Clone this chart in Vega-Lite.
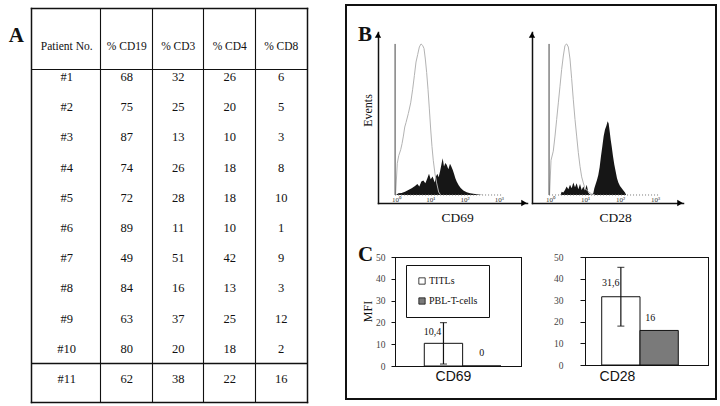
{
  "$schema": "https://vega.github.io/schema/vega-lite/v6.json",
  "width": 720,
  "height": 406,
  "autosize": {"type": "none"},
  "padding": 0,
  "background": "white",
  "config": {
    "view": {"stroke": null},
    "font": "Liberation Serif",
    "axis": {"domainColor": "#111", "gridColor": "#111", "gridOpacity": 1, "tickColor": "#111", "labelColor": "#333", "titleColor": "#111", "titleFontWeight": "normal", "titlePadding": 0, "domainCap": "square"},
    "text": {"color": "#111"},
    "locale": {"number": {"decimal": ",", "thousands": ".", "grouping": [3], "currency": ["", " €"]}}
  },
  "datasets": {
    "table": [
      {"patient": "#1", "% CD19": 68, "% CD3": 32, "% CD4": 26, "% CD8": 6},
      {"patient": "#2", "% CD19": 75, "% CD3": 25, "% CD4": 20, "% CD8": 5},
      {"patient": "#3", "% CD19": 87, "% CD3": 13, "% CD4": 10, "% CD8": 3},
      {"patient": "#4", "% CD19": 74, "% CD3": 26, "% CD4": 18, "% CD8": 8},
      {"patient": "#5", "% CD19": 72, "% CD3": 28, "% CD4": 18, "% CD8": 10},
      {"patient": "#6", "% CD19": 89, "% CD3": 11, "% CD4": 10, "% CD8": 1},
      {"patient": "#7", "% CD19": 49, "% CD3": 51, "% CD4": 42, "% CD8": 9},
      {"patient": "#8", "% CD19": 84, "% CD3": 16, "% CD4": 13, "% CD8": 3},
      {"patient": "#9", "% CD19": 63, "% CD3": 37, "% CD4": 25, "% CD8": 12},
      {"patient": "#10", "% CD19": 80, "% CD3": 20, "% CD4": 18, "% CD8": 2},
      {"patient": "#11", "% CD19": 62, "% CD3": 38, "% CD4": 22, "% CD8": 16}
    ],
    "columns": [{"column": "% CD19"}, {"column": "% CD3"}, {"column": "% CD4"}, {"column": "% CD8"}],
    "mfi": [
      {"marker": "CD69", "cells": "TITLs", "mfi": 10.4, "lo": 0.9, "hi": 19.9},
      {"marker": "CD69", "cells": "PBL-T-cells", "mfi": 0},
      {"marker": "CD28", "cells": "TITLs", "mfi": 31.6, "lo": 18.0, "hi": 45.2},
      {"marker": "CD28", "cells": "PBL-T-cells", "mfi": 16}
    ],
    "facs": [
      {"marker": "CD69", "stain": "control", "intensity": 0.97, "events": 0},
      {"marker": "CD69", "stain": "control", "intensity": 1.09, "events": 21},
      {"marker": "CD69", "stain": "control", "intensity": 1.2, "events": 26},
      {"marker": "CD69", "stain": "control", "intensity": 1.37, "events": 30},
      {"marker": "CD69", "stain": "control", "intensity": 1.5, "events": 34},
      {"marker": "CD69", "stain": "control", "intensity": 1.64, "events": 39},
      {"marker": "CD69", "stain": "control", "intensity": 1.8, "events": 45},
      {"marker": "CD69", "stain": "control", "intensity": 1.96, "events": 48},
      {"marker": "CD69", "stain": "control", "intensity": 2.29, "events": 54},
      {"marker": "CD69", "stain": "control", "intensity": 2.68, "events": 61},
      {"marker": "CD69", "stain": "control", "intensity": 3.06, "events": 70},
      {"marker": "CD69", "stain": "control", "intensity": 3.43, "events": 79},
      {"marker": "CD69", "stain": "control", "intensity": 3.83, "events": 88},
      {"marker": "CD69", "stain": "control", "intensity": 4.29, "events": 93},
      {"marker": "CD69", "stain": "control", "intensity": 4.79, "events": 98},
      {"marker": "CD69", "stain": "control", "intensity": 5.36, "events": 100},
      {"marker": "CD69", "stain": "control", "intensity": 5.98, "events": 99},
      {"marker": "CD69", "stain": "control", "intensity": 6.55, "events": 97},
      {"marker": "CD69", "stain": "control", "intensity": 7.16, "events": 90},
      {"marker": "CD69", "stain": "control", "intensity": 7.83, "events": 81},
      {"marker": "CD69", "stain": "control", "intensity": 8.57, "events": 70},
      {"marker": "CD69", "stain": "control", "intensity": 9.38, "events": 57},
      {"marker": "CD69", "stain": "control", "intensity": 10.3, "events": 43},
      {"marker": "CD69", "stain": "control", "intensity": 11.2, "events": 32},
      {"marker": "CD69", "stain": "control", "intensity": 12.2, "events": 23},
      {"marker": "CD69", "stain": "control", "intensity": 13.7, "events": 14},
      {"marker": "CD69", "stain": "control", "intensity": 15.3, "events": 8},
      {"marker": "CD69", "stain": "control", "intensity": 17.5, "events": 2},
      {"marker": "CD69", "stain": "control", "intensity": 20, "events": 0},
      {"marker": "CD69", "stain": "stained", "intensity": 1.0, "events": 0},
      {"marker": "CD69", "stain": "stained", "intensity": 1.17, "events": 1.1},
      {"marker": "CD69", "stain": "stained", "intensity": 1.46, "events": 1.3},
      {"marker": "CD69", "stain": "stained", "intensity": 1.83, "events": 2.2},
      {"marker": "CD69", "stain": "stained", "intensity": 2.29, "events": 3.3},
      {"marker": "CD69", "stain": "stained", "intensity": 2.86, "events": 4.4},
      {"marker": "CD69", "stain": "stained", "intensity": 3.58, "events": 6},
      {"marker": "CD69", "stain": "stained", "intensity": 4.19, "events": 7.3},
      {"marker": "CD69", "stain": "stained", "intensity": 4.79, "events": 5.6},
      {"marker": "CD69", "stain": "stained", "intensity": 5.48, "events": 8.9},
      {"marker": "CD69", "stain": "stained", "intensity": 6.26, "events": 9.6},
      {"marker": "CD69", "stain": "stained", "intensity": 7.17, "events": 7.8},
      {"marker": "CD69", "stain": "stained", "intensity": 8.2, "events": 11.1},
      {"marker": "CD69", "stain": "stained", "intensity": 9.16, "events": 14},
      {"marker": "CD69", "stain": "stained", "intensity": 10.25, "events": 10.4},
      {"marker": "CD69", "stain": "stained", "intensity": 11.7, "events": 12.2},
      {"marker": "CD69", "stain": "stained", "intensity": 13.4, "events": 8.2},
      {"marker": "CD69", "stain": "stained", "intensity": 14.7, "events": 12.2},
      {"marker": "CD69", "stain": "stained", "intensity": 16, "events": 14},
      {"marker": "CD69", "stain": "stained", "intensity": 17.5, "events": 11.8},
      {"marker": "CD69", "stain": "stained", "intensity": 19.2, "events": 15.6},
      {"marker": "CD69", "stain": "stained", "intensity": 21, "events": 20},
      {"marker": "CD69", "stain": "stained", "intensity": 22.9, "events": 24.4},
      {"marker": "CD69", "stain": "stained", "intensity": 25.1, "events": 18.9},
      {"marker": "CD69", "stain": "stained", "intensity": 27.4, "events": 21.1},
      {"marker": "CD69", "stain": "stained", "intensity": 30, "events": 20},
      {"marker": "CD69", "stain": "stained", "intensity": 33.6, "events": 17.1},
      {"marker": "CD69", "stain": "stained", "intensity": 37.5, "events": 20.7},
      {"marker": "CD69", "stain": "stained", "intensity": 41, "events": 18.9},
      {"marker": "CD69", "stain": "stained", "intensity": 44.9, "events": 16.7},
      {"marker": "CD69", "stain": "stained", "intensity": 49.1, "events": 14},
      {"marker": "CD69", "stain": "stained", "intensity": 53.7, "events": 11.1},
      {"marker": "CD69", "stain": "stained", "intensity": 58.7, "events": 8.9},
      {"marker": "CD69", "stain": "stained", "intensity": 67.2, "events": 6.4},
      {"marker": "CD69", "stain": "stained", "intensity": 76.8, "events": 4.7},
      {"marker": "CD69", "stain": "stained", "intensity": 91.9, "events": 2.9},
      {"marker": "CD69", "stain": "stained", "intensity": 115, "events": 1.8},
      {"marker": "CD69", "stain": "stained", "intensity": 144, "events": 1.1},
      {"marker": "CD69", "stain": "stained", "intensity": 201, "events": 0.7},
      {"marker": "CD69", "stain": "stained", "intensity": 281, "events": 0.2},
      {"marker": "CD69", "stain": "stained", "intensity": 352, "events": 0},
      {"marker": "CD28", "stain": "control", "intensity": 0.97, "events": 0},
      {"marker": "CD28", "stain": "control", "intensity": 1.07, "events": 23},
      {"marker": "CD28", "stain": "control", "intensity": 1.24, "events": 29},
      {"marker": "CD28", "stain": "control", "intensity": 1.39, "events": 39},
      {"marker": "CD28", "stain": "control", "intensity": 1.55, "events": 50},
      {"marker": "CD28", "stain": "control", "intensity": 1.73, "events": 61},
      {"marker": "CD28", "stain": "control", "intensity": 1.93, "events": 72},
      {"marker": "CD28", "stain": "control", "intensity": 2.15, "events": 83},
      {"marker": "CD28", "stain": "control", "intensity": 2.4, "events": 92},
      {"marker": "CD28", "stain": "control", "intensity": 2.68, "events": 99},
      {"marker": "CD28", "stain": "control", "intensity": 2.99, "events": 100},
      {"marker": "CD28", "stain": "control", "intensity": 3.34, "events": 98},
      {"marker": "CD28", "stain": "control", "intensity": 3.73, "events": 90},
      {"marker": "CD28", "stain": "control", "intensity": 4.16, "events": 77},
      {"marker": "CD28", "stain": "control", "intensity": 4.64, "events": 63},
      {"marker": "CD28", "stain": "control", "intensity": 5.18, "events": 50},
      {"marker": "CD28", "stain": "control", "intensity": 5.78, "events": 39},
      {"marker": "CD28", "stain": "control", "intensity": 6.45, "events": 28},
      {"marker": "CD28", "stain": "control", "intensity": 7.2, "events": 19},
      {"marker": "CD28", "stain": "control", "intensity": 8.03, "events": 12},
      {"marker": "CD28", "stain": "control", "intensity": 8.96, "events": 8},
      {"marker": "CD28", "stain": "control", "intensity": 10, "events": 4.4},
      {"marker": "CD28", "stain": "control", "intensity": 12.4, "events": 2.2},
      {"marker": "CD28", "stain": "control", "intensity": 15.5, "events": 0.7},
      {"marker": "CD28", "stain": "control", "intensity": 19.3, "events": 0},
      {"marker": "CD28", "stain": "stained", "intensity": 2.0, "events": 0},
      {"marker": "CD28", "stain": "stained", "intensity": 2.15, "events": 2.2},
      {"marker": "CD28", "stain": "stained", "intensity": 2.4, "events": 1.6},
      {"marker": "CD28", "stain": "stained", "intensity": 2.68, "events": 3.3},
      {"marker": "CD28", "stain": "stained", "intensity": 2.99, "events": 5.6},
      {"marker": "CD28", "stain": "stained", "intensity": 3.34, "events": 3.8},
      {"marker": "CD28", "stain": "stained", "intensity": 3.73, "events": 6.7},
      {"marker": "CD28", "stain": "stained", "intensity": 4.16, "events": 4.4},
      {"marker": "CD28", "stain": "stained", "intensity": 4.64, "events": 8.2},
      {"marker": "CD28", "stain": "stained", "intensity": 5.18, "events": 5.1},
      {"marker": "CD28", "stain": "stained", "intensity": 5.78, "events": 7.8},
      {"marker": "CD28", "stain": "stained", "intensity": 6.45, "events": 3.8},
      {"marker": "CD28", "stain": "stained", "intensity": 7.2, "events": 7.3},
      {"marker": "CD28", "stain": "stained", "intensity": 8.03, "events": 3.3},
      {"marker": "CD28", "stain": "stained", "intensity": 8.96, "events": 5.6},
      {"marker": "CD28", "stain": "stained", "intensity": 10, "events": 2.9},
      {"marker": "CD28", "stain": "stained", "intensity": 11.2, "events": 6.7},
      {"marker": "CD28", "stain": "stained", "intensity": 12.4, "events": 1.6},
      {"marker": "CD28", "stain": "stained", "intensity": 13.9, "events": 0.4},
      {"marker": "CD28", "stain": "stained", "intensity": 15.5, "events": 0},
      {"marker": "CD28", "stain": "stained", "intensity": 17.3, "events": 1.1},
      {"marker": "CD28", "stain": "stained", "intensity": 18.5, "events": 4.4},
      {"marker": "CD28", "stain": "stained", "intensity": 20.2, "events": 7.3},
      {"marker": "CD28", "stain": "stained", "intensity": 22, "events": 10},
      {"marker": "CD28", "stain": "stained", "intensity": 24, "events": 13.3},
      {"marker": "CD28", "stain": "stained", "intensity": 26.2, "events": 18.4},
      {"marker": "CD28", "stain": "stained", "intensity": 28.6, "events": 25.6},
      {"marker": "CD28", "stain": "stained", "intensity": 31.3, "events": 32.2},
      {"marker": "CD28", "stain": "stained", "intensity": 34.1, "events": 38.9},
      {"marker": "CD28", "stain": "stained", "intensity": 37.3, "events": 43.3},
      {"marker": "CD28", "stain": "stained", "intensity": 40.7, "events": 45.6},
      {"marker": "CD28", "stain": "stained", "intensity": 44.4, "events": 48.9},
      {"marker": "CD28", "stain": "stained", "intensity": 47.4, "events": 47.3},
      {"marker": "CD28", "stain": "stained", "intensity": 50.7, "events": 42.2},
      {"marker": "CD28", "stain": "stained", "intensity": 54.1, "events": 36.7},
      {"marker": "CD28", "stain": "stained", "intensity": 57.8, "events": 32.2},
      {"marker": "CD28", "stain": "stained", "intensity": 63.1, "events": 25.6},
      {"marker": "CD28", "stain": "stained", "intensity": 68.9, "events": 20},
      {"marker": "CD28", "stain": "stained", "intensity": 75.2, "events": 15.6},
      {"marker": "CD28", "stain": "stained", "intensity": 82.1, "events": 11.1},
      {"marker": "CD28", "stain": "stained", "intensity": 89.6, "events": 8.2},
      {"marker": "CD28", "stain": "stained", "intensity": 100, "events": 6},
      {"marker": "CD28", "stain": "stained", "intensity": 112, "events": 4.4},
      {"marker": "CD28", "stain": "stained", "intensity": 125, "events": 2.9},
      {"marker": "CD28", "stain": "stained", "intensity": 139, "events": 1.6},
      {"marker": "CD28", "stain": "stained", "intensity": 150, "events": 0}
    ]
  },
  "layer": [
    {
      "data": {"values": [{"panels": "B, C"}]},
      "mark": {"type": "rect", "fillOpacity": 0, "stroke": "#111", "strokeWidth": 2},
      "encoding": {
        "x": {"field": "panels", "type": "nominal", "scale": {"type": "band", "range": [346, 716], "paddingInner": 0, "paddingOuter": 0}, "axis": null},
        "y": {"field": "panels", "type": "nominal", "scale": {"type": "band", "range": [5, 399], "paddingInner": 0, "paddingOuter": 0}, "axis": null}
      }
    },
    {
      "layer": [
        {
          "data": {"name": "table"},
          "transform": [{"fold": ["% CD19", "% CD3", "% CD4", "% CD8"], "as": ["column", "percent"]}],
          "mark": {"type": "text", "fontSize": 12.5, "baseline": "middle"},
          "encoding": {
            "x": {"field": "column", "type": "nominal",
              "scale": {"type": "band", "domain": ["Patient No.", "% CD19", "% CD3", "% CD4", "% CD8"], "range": [31, 307], "paddingInner": 0, "paddingOuter": 0.1796, "align": 1},
              "axis": {"orient": "top", "offset": -8, "domain": true, "domainWidth": 1.5, "labels": false, "ticks": false, "title": null, "grid": true, "gridWidth": 1.1, "values": ["% CD19", "% CD3", "% CD4", "% CD8"], "bandPosition": 0}},
            "y": {"field": "patient", "type": "nominal",
              "scale": {"type": "band", "domain": ["header", "#1", "#2", "#3", "#4", "#5", "#6", "#7", "#8", "#9", "#10", "#11"], "range": [8, 402], "paddingInner": 0, "paddingOuter": 0.521, "align": 0.749},
              "axis": {"orient": "left", "offset": -31, "domain": true, "domainWidth": 1.5, "labels": false, "ticks": false, "title": null, "grid": true, "gridWidth": 1.1, "values": ["#1"], "bandPosition": 0.248}},
            "text": {"field": "percent", "type": "quantitative"}
          }
        },
        {
          "data": {"name": "table"},
          "mark": {"type": "text", "fontSize": 12.5, "baseline": "middle", "dx": -8.5},
          "encoding": {
            "x": {"datum": "Patient No.", "type": "nominal",
              "axis": {"orient": "bottom", "offset": -4, "domain": true, "domainWidth": 1.5, "labels": false, "ticks": false, "title": null, "grid": false}},
            "y": {"field": "patient", "type": "nominal",
              "axis": {"orient": "right", "offset": -413, "domain": true, "domainWidth": 1.5, "labels": false, "ticks": false, "title": null, "grid": false}},
            "text": {"field": "patient", "type": "nominal"}
          }
        },
        {
          "data": {"name": "columns"},
          "mark": {"type": "text", "fontSize": 11.5, "baseline": "middle"},
          "encoding": {
            "x": {"field": "column", "type": "nominal", "axis": null},
            "y": {"datum": "header", "type": "nominal",
              "axis": {"orient": "left", "offset": -31, "domain": false, "labels": false, "ticks": false, "title": null, "grid": true, "gridWidth": 1.3, "values": ["#11"], "bandPosition": 0}},
            "text": {"field": "column", "type": "nominal"}
          }
        },
        {
          "data": {"values": [{"label": "Patient No."}]},
          "mark": {"type": "text", "fontSize": 11.5, "baseline": "middle", "dx": -8.5},
          "encoding": {
            "x": {"datum": "Patient No.", "type": "nominal", "axis": null},
            "y": {"datum": "header", "type": "nominal", "axis": null},
            "text": {"field": "label", "type": "nominal"}
          }
        },
        {
          "data": {"values": [{"panel": "A"}]},
          "mark": {"type": "text", "fontSize": 21, "fontWeight": "bold", "baseline": "alphabetic", "dx": -59, "dy": -4.5},
          "encoding": {
            "x": {"datum": "Patient No.", "type": "nominal", "axis": null},
            "y": {"datum": "header", "type": "nominal", "axis": null},
            "text": {"field": "panel", "type": "nominal"}
          }
        }
      ],
      "resolve": {"axis": {"x": "independent", "y": "independent"}}
    },
    {
      "layer": [
        {
          "data": {"name": "facs"},
          "transform": [{"filter": "datum.marker === 'CD69' && datum.stain === 'stained'"}],
          "mark": {"type": "area", "color": "#161616"},
          "encoding": {
            "x": {"field": "intensity", "type": "quantitative",
              "scale": {"type": "log", "domain": [0.2985, 6592], "range": [378, 527], "nice": false, "zero": false},
              "axis": {"orient": "bottom", "offset": -203, "values": [1, 10, 100, 1000], "ticks": false, "tickSize": 0, "labelPadding": -3.5, "labelBaseline": "middle", "labelFontSize": 7, "labelColor": "#333", "labelFlush": false, "labelOverlap": false,
                "labelExpr": "datum.value == 1 ? '10⁰' : datum.value == 10 ? '10¹' : datum.value == 100 ? '10²' : '10³'",
                "domainWidth": 1.5, "grid": false, "title": "CD69", "titleX": 457, "titleY": 14, "titleFontSize": 13.5, "titleBaseline": "middle", "titleAlign": "center"}},
            "y": {"field": "events", "type": "quantitative",
              "scale": {"domain": [-5.3, 107.9], "range": [203, 32], "nice": false, "zero": false},
              "axis": {"orient": "left", "offset": -378, "labels": false, "ticks": false, "grid": false, "domainWidth": 1.5, "title": "Events", "titleX": -11, "titleY": 110, "titleFontSize": 12, "titleBaseline": "middle", "titleAlign": "center", "titleAngle": 270}},
            "y2": {"datum": 0}
          }
        },
        {
          "data": {"name": "facs"},
          "transform": [{"filter": "datum.marker === 'CD69' && datum.stain === 'control'"}],
          "mark": {"type": "line", "color": "#b3b3b3", "strokeWidth": 1},
          "encoding": {
            "x": {"field": "intensity", "type": "quantitative", "axis": null},
            "y": {"field": "events", "type": "quantitative", "axis": null}
          }
        },
        {
          "data": {"values": [{"panel": "B"}]},
          "layer": [
            {
              "mark": {"type": "rule", "color": "#444", "strokeWidth": 1},
              "encoding": {
                "x": {"datum": 0.94, "type": "quantitative", "axis": null},
                "y": {"datum": 0, "type": "quantitative", "axis": null},
                "y2": {"datum": 100}
              }
            },
            {
              "mark": {"type": "rule", "color": "#777", "strokeWidth": 1, "strokeDash": [1, 2]},
              "encoding": {
                "x": {"datum": 0.94, "type": "quantitative", "axis": null},
                "x2": {"datum": 1300},
                "y": {"datum": 0, "type": "quantitative", "axis": null}
              }
            },
            {
              "mark": {"type": "point", "shape": "triangle-up", "filled": true, "color": "black", "size": 40, "opacity": 1, "yOffset": 3},
              "encoding": {
                "x": {"datum": 0.2985, "type": "quantitative", "axis": null},
                "y": {"datum": 107.9, "type": "quantitative", "axis": null}
              }
            },
            {
              "mark": {"type": "point", "shape": "triangle-right", "filled": true, "color": "black", "size": 40, "opacity": 1, "xOffset": -3},
              "encoding": {
                "x": {"datum": 6592, "type": "quantitative", "axis": null},
                "y": {"datum": -5.3, "type": "quantitative", "axis": null}
              }
            },
            {
              "mark": {"type": "text", "fontSize": 21, "fontWeight": "bold", "baseline": "alphabetic", "dx": -13, "dy": 9},
              "encoding": {
                "x": {"datum": 0.2985, "type": "quantitative", "axis": null},
                "y": {"datum": 107.9, "type": "quantitative", "axis": null},
                "text": {"field": "panel", "type": "nominal"}
              }
            }
          ]
        }
      ],
      "resolve": {"axis": {"x": "independent", "y": "independent"}}
    },
    {
      "layer": [
        {
          "data": {"name": "facs"},
          "transform": [{"filter": "datum.marker === 'CD28' && datum.stain === 'stained'"}],
          "mark": {"type": "area", "color": "#161616"},
          "encoding": {
            "x": {"field": "intensity", "type": "quantitative",
              "scale": {"type": "log", "domain": [0.306, 6310], "range": [532, 683], "nice": false, "zero": false},
              "axis": {"orient": "bottom", "offset": -203, "values": [1, 10, 100, 1000], "ticks": false, "tickSize": 0, "labelPadding": -3.5, "labelBaseline": "middle", "labelFontSize": 7, "labelColor": "#333", "labelFlush": false, "labelOverlap": false,
                "labelExpr": "datum.value == 1 ? '10⁰' : datum.value == 10 ? '10¹' : datum.value == 100 ? '10²' : '10³'",
                "domainWidth": 1.5, "grid": false, "title": "CD28", "titleX": 615, "titleY": 14, "titleFontSize": 13.5, "titleBaseline": "middle", "titleAlign": "center"}},
            "y": {"field": "events", "type": "quantitative",
              "scale": {"domain": [-5.3, 107.9], "range": [203, 32], "nice": false, "zero": false},
              "axis": {"orient": "left", "offset": -532, "labels": false, "ticks": false, "grid": false, "domainWidth": 1.5, "title": null}},
            "y2": {"datum": 0}
          }
        },
        {
          "data": {"name": "facs"},
          "transform": [{"filter": "datum.marker === 'CD28' && datum.stain === 'control'"}],
          "mark": {"type": "line", "color": "#b3b3b3", "strokeWidth": 1},
          "encoding": {
            "x": {"field": "intensity", "type": "quantitative", "axis": null},
            "y": {"field": "events", "type": "quantitative", "axis": null}
          }
        },
        {
          "data": {"values": [{"panel": "B"}]},
          "layer": [
            {
              "mark": {"type": "rule", "color": "#444", "strokeWidth": 1},
              "encoding": {
                "x": {"datum": 0.94, "type": "quantitative", "axis": null},
                "y": {"datum": 0, "type": "quantitative", "axis": null},
                "y2": {"datum": 100}
              }
            },
            {
              "mark": {"type": "rule", "color": "#777", "strokeWidth": 1, "strokeDash": [1, 2]},
              "encoding": {
                "x": {"datum": 0.94, "type": "quantitative", "axis": null},
                "x2": {"datum": 1300},
                "y": {"datum": 0, "type": "quantitative", "axis": null}
              }
            },
            {
              "mark": {"type": "point", "shape": "triangle-up", "filled": true, "color": "black", "size": 40, "opacity": 1, "yOffset": 3},
              "encoding": {
                "x": {"datum": 0.306, "type": "quantitative", "axis": null},
                "y": {"datum": 107.9, "type": "quantitative", "axis": null}
              }
            },
            {
              "mark": {"type": "point", "shape": "triangle-right", "filled": true, "color": "black", "size": 40, "opacity": 1, "xOffset": -3},
              "encoding": {
                "x": {"datum": 6310, "type": "quantitative", "axis": null},
                "y": {"datum": -5.3, "type": "quantitative", "axis": null}
              }
            }
          ]
        }
      ],
      "resolve": {"axis": {"x": "independent", "y": "independent"}}
    },
    {
      "layer": [
        {
          "data": {"name": "mfi"},
          "transform": [{"filter": "datum.marker === 'CD69'"}],
          "mark": {"type": "bar", "stroke": "#111", "strokeWidth": 1},
          "encoding": {
            "x": {"field": "cells", "type": "nominal",
              "scale": {"type": "band", "domain": ["TITLs", "PBL-T-cells"], "range": [395, 521], "paddingInner": 0, "paddingOuter": 0.643, "align": 0.594},
              "axis": {"orient": "bottom", "offset": -40, "labels": false, "ticks": false, "grid": false, "domainWidth": 1, "title": "CD69", "titleFont": "Liberation Sans", "titleFontSize": 14, "titleX": 453, "titleY": 10, "titleBaseline": "middle", "titleAlign": "center"}},
            "y": {"field": "mfi", "type": "quantitative",
              "scale": {"domain": [0, 50], "range": [366, 257], "nice": false},
              "axis": {"orient": "left", "offset": -395, "values": [0, 10, 20, 30, 40, 50], "tickSize": 4, "labelPadding": 6, "labelFontSize": 9.5, "labelColor": "#444", "labelFlush": false, "grid": false, "domainWidth": 1, "title": "MFI", "titleX": -28, "titleY": 311, "titleFontSize": 12, "titleBaseline": "middle", "titleAlign": "center", "titleAngle": 270}},
            "fill": {"field": "cells", "type": "nominal",
              "scale": {"domain": ["TITLs", "PBL-T-cells"], "range": ["white", "#7a7a7a"]},
              "legend": {"orient": "none", "legendX": 406, "legendY": 265, "title": null, "strokeColor": "#111", "fillColor": "white", "padding": 11, "symbolType": "square", "symbolSize": 40, "symbolStrokeColor": "#111", "symbolStrokeWidth": 0.8, "labelFont": "Liberation Serif", "labelFontSize": 10, "labelColor": "#111", "labelOffset": 2, "rowPadding": 10}}
          }
        },
        {
          "data": {"name": "mfi"},
          "transform": [{"filter": "datum.marker === 'CD69' && isValid(datum.lo)"}],
          "mark": {"type": "errorbar", "ticks": true, "color": "#111", "size": 7, "thickness": 1.2},
          "encoding": {
            "x": {"field": "cells", "type": "nominal", "axis": null},
            "y": {"field": "lo", "type": "quantitative", "axis": null},
            "y2": {"field": "hi"}
          }
        },
        {
          "data": {"name": "mfi"},
          "transform": [{"filter": "datum.marker === 'CD69' && datum.cells === 'TITLs'"}],
          "mark": {"type": "text", "fontSize": 10, "dx": -11, "dy": -11, "baseline": "middle"},
          "encoding": {
            "x": {"field": "cells", "type": "nominal", "axis": {"orient": "top", "offset": -257, "labels": false, "ticks": false, "grid": false, "domainWidth": 1, "title": null}},
            "y": {"field": "mfi", "type": "quantitative", "axis": {"orient": "right", "offset": -199, "labels": false, "ticks": false, "grid": false, "domainWidth": 1, "title": null}},
            "text": {"field": "mfi", "type": "quantitative", "format": "~g"}
          }
        },
        {
          "data": {"name": "mfi"},
          "transform": [{"filter": "datum.marker === 'CD69' && datum.cells === 'PBL-T-cells'"}],
          "mark": {"type": "text", "fontSize": 10, "dx": 0, "dy": -13, "baseline": "middle"},
          "encoding": {
            "x": {"field": "cells", "type": "nominal", "axis": null},
            "y": {"field": "mfi", "type": "quantitative", "axis": null},
            "text": {"field": "mfi", "type": "quantitative", "format": "~g"}
          }
        },
        {
          "data": {"values": [{"panel": "C"}]},
          "mark": {"type": "text", "fontSize": 21, "fontWeight": "bold", "baseline": "alphabetic", "dx": -78, "dy": 4},
          "encoding": {
            "x": {"datum": "TITLs", "type": "nominal", "axis": null},
            "y": {"datum": 50, "type": "quantitative", "axis": null},
            "text": {"field": "panel", "type": "nominal"}
          }
        }
      ],
      "resolve": {"axis": {"x": "independent", "y": "independent"}}
    },
    {
      "layer": [
        {
          "data": {"name": "mfi"},
          "transform": [{"filter": "datum.marker === 'CD28'"}],
          "mark": {"type": "bar", "stroke": "#111", "strokeWidth": 1},
          "encoding": {
            "x": {"field": "cells", "type": "nominal",
              "scale": {"type": "band", "domain": ["TITLs", "PBL-T-cells"], "range": [585, 708], "paddingInner": 0, "paddingOuter": 0.606, "align": 0.36},
              "axis": {"orient": "bottom", "offset": -41, "labels": false, "ticks": false, "grid": false, "domainWidth": 1, "title": "CD28", "titleFont": "Liberation Sans", "titleFontSize": 14, "titleX": 617, "titleY": 11, "titleBaseline": "middle", "titleAlign": "center"}},
            "y": {"field": "mfi", "type": "quantitative",
              "scale": {"domain": [0, 50], "range": [365, 257], "nice": false},
              "axis": {"orient": "left", "offset": -585, "values": [0, 10, 20, 30, 40, 50], "tickSize": 5, "labelPadding": 17, "labelFontSize": 9.5, "labelColor": "#444", "labelFlush": false, "grid": false, "domainWidth": 1, "title": null}},
            "fill": {"field": "cells", "type": "nominal", "legend": null}
          }
        },
        {
          "data": {"name": "mfi"},
          "transform": [{"filter": "datum.marker === 'CD28' && isValid(datum.lo)"}],
          "mark": {"type": "errorbar", "ticks": true, "color": "#111", "size": 7, "thickness": 1.2},
          "encoding": {
            "x": {"field": "cells", "type": "nominal", "axis": null},
            "y": {"field": "lo", "type": "quantitative", "axis": null},
            "y2": {"field": "hi"}
          }
        },
        {
          "data": {"name": "mfi"},
          "transform": [{"filter": "datum.marker === 'CD28' && datum.cells === 'TITLs'"}],
          "mark": {"type": "text", "fontSize": 10, "dx": -10, "dy": -14, "baseline": "middle"},
          "encoding": {
            "x": {"field": "cells", "type": "nominal", "axis": {"orient": "top", "offset": -257, "labels": false, "ticks": false, "grid": false, "domainWidth": 1, "title": null}},
            "y": {"field": "mfi", "type": "quantitative", "axis": {"orient": "right", "offset": -12, "labels": false, "ticks": false, "grid": false, "domainWidth": 1, "title": null}},
            "text": {"field": "mfi", "type": "quantitative", "format": "~g"}
          }
        },
        {
          "data": {"name": "mfi"},
          "transform": [{"filter": "datum.marker === 'CD28' && datum.cells === 'PBL-T-cells'"}],
          "mark": {"type": "text", "fontSize": 10, "dx": -9, "dy": -12, "baseline": "middle"},
          "encoding": {
            "x": {"field": "cells", "type": "nominal", "axis": null},
            "y": {"field": "mfi", "type": "quantitative", "axis": null},
            "text": {"field": "mfi", "type": "quantitative", "format": "~g"}
          }
        }
      ],
      "resolve": {"axis": {"x": "independent", "y": "independent"}}
    }
  ],
  "resolve": {"scale": {"x": "independent", "y": "independent"}, "axis": {"x": "independent", "y": "independent"}}
}
